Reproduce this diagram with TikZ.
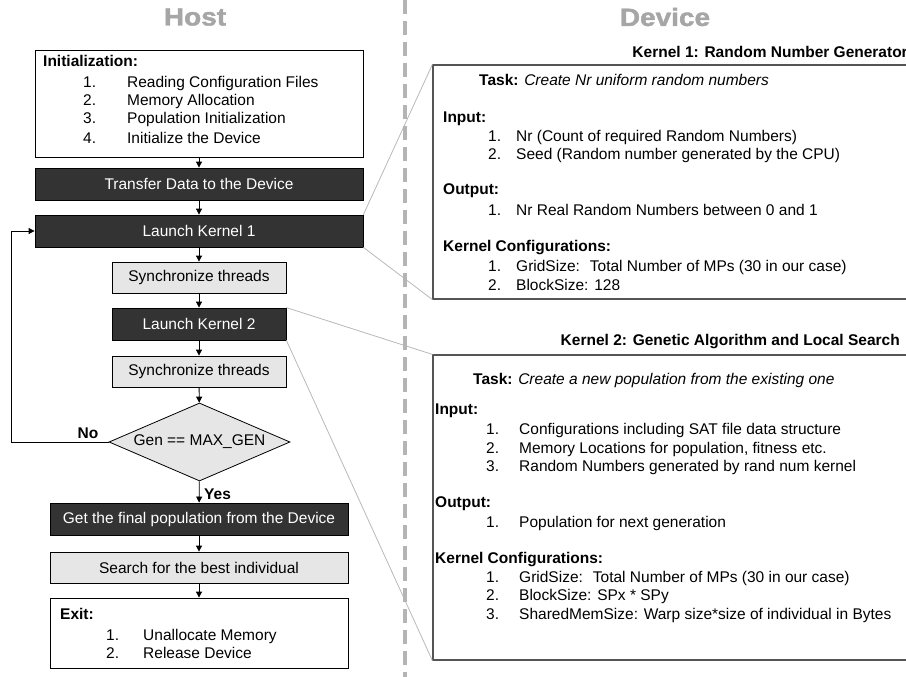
\documentclass[tikz,border=0pt]{standalone}
\usepackage{fontspec}
\setmainfont{Liberation Sans}
\newfontfamily\headfont[FakeBold=1.6]{Liberation Sans}
\usetikzlibrary{arrows.meta,shapes.geometric}
\definecolor{darkfill}{HTML}{333333}
\definecolor{lightfill}{HTML}{E6E6E6}
\definecolor{headgray}{HTML}{A6A6A6}
\definecolor{sepgray}{HTML}{B4B4B4}
\definecolor{linkgray}{HTML}{B8B8B8}
\definecolor{kborder}{HTML}{555555}
\newcommand\bodysize{\fontsize{15.5}{18}\selectfont}
\tikzset{
 base/.style={font=\bodysize, inner sep=0pt},
 txt/.style={base, anchor=west, text height=11pt, text depth=3pt},
 btxt/.style={txt, font=\bodysize\bfseries},
 darkbox/.style={base, draw=black, fill=darkfill, text=white, line width=0.8pt},
 lightbox/.style={base, draw=black, fill=lightfill, line width=0.8pt},
 whitebox/.style={base, draw=black, fill=white, line width=0.8pt},
 decision/.style={base, shape=diamond, aspect=2.3, draw=black, fill=lightfill, line width=0.8pt},
 kbox/.style={draw=kborder, line width=1.2pt, fill=white, inner sep=0pt},
 arr/.style={draw=black, line width=0.8pt, -{Triangle[length=6pt,width=6pt]}},
 link/.style={draw=linkgray, line width=0.8pt},
 sepline/.style={draw=sepgray, line width=4pt, dash pattern=on 14pt off 7pt},
 head/.style={font=\fontsize{25}{30}\selectfont\headfont\bfseries, text=headgray, inner sep=0pt},
 khead/.style={font=\bodysize\bfseries, anchor=east, inner sep=0pt},
}
\begin{document}
\begin{tikzpicture}[x=1pt,y=-1pt]
\useasboundingbox (0,0) rectangle (906,677);
% headers
\node[head] (host) at (195,17) {\scalebox{1.12}[1]{Host}};
\node[head] (device) at (665,17) {\scalebox{1.12}[1]{Device}};
% host boxes
\node[whitebox, minimum width=328, minimum height=107] (init) at (199,103.5) {};
\node[btxt] (initT) at (43,63) {Initialization:};
\node[txt] (init1) at (83,84) {\makebox[44pt][l]{1.}Reading Configuration Files};
\node[txt] (init2) at (83,102) {\makebox[44pt][l]{2.}Memory Allocation};
\node[txt] (init3) at (83,120) {\makebox[44pt][l]{3.}Population Initialization};
\node[txt] (init4) at (83,139) {\makebox[44pt][l]{4.}Initialize the Device};
\node[darkbox, minimum width=328, minimum height=32] (transfer) at (199,184) {Transfer Data to the Device};
\node[darkbox, minimum width=328, minimum height=32] (lk1) at (199,231) {Launch Kernel 1};
\node[lightbox, minimum width=174, minimum height=31] (sync1) at (199,277.5) {Synchronize threads};
\node[darkbox, minimum width=174, minimum height=32] (lk2) at (199,324) {Launch Kernel 2};
\node[lightbox, minimum width=174, minimum height=31] (sync2) at (199,371.5) {Synchronize threads};
\node[decision, minimum width=181, minimum height=78] (dec) at (199.5,442) {Gen == MAX\_GEN};
\node[darkbox, minimum width=298, minimum height=32] (final) at (199,519) {Get the final population from the Device};
\node[lightbox, minimum width=298, minimum height=31] (search) at (199,567.5) {Search for the best individual};
\node[whitebox, minimum width=298, minimum height=70] (exit) at (199,633) {};
\node[btxt] (exitT) at (60,615) {Exit:};
\node[txt] (exit1) at (106,636) {\makebox[37pt][l]{1.}Unallocate Memory};
\node[txt] (exit2) at (106,654) {\makebox[37pt][l]{2.}Release Device};
% host arrows
\draw[arr] (init) -- (transfer);
\draw[arr] (transfer) -- (lk1);
\draw[arr] (lk1) -- (sync1);
\draw[arr] (sync1) -- (lk2);
\draw[arr] (lk2) -- (sync2);
\draw[arr] (sync2) -- (dec);
\draw[arr] (dec) -- (final);
\draw[arr] (final) -- (search);
\draw[arr] (search) -- (exit);
\coordinate (loopc) at (11,442);
\draw[arr] (dec.west) -- (loopc) |- (lk1.west);
\node[btxt, anchor=center] (nolbl) at (88,434) {No};
\node[btxt] (yeslbl) at (204,495) {Yes};
% kernel boxes
\node[kbox, minimum width=487, minimum height=234] (k1) at (676.5,182) {};
\node[kbox, minimum width=487, minimum height=305] (k2) at (676.5,507.5) {};
\node[khead] (k1h) at (908,52) {Kernel 1: Random Number Generator};
\node[khead] (k2h) at (900,342) {Kernel 2: Genetic Algorithm and Local Search};
% kernel 1 content
\node[txt] (k1task) at (479,81) {\textbf{Task:} \textit{Create Nr uniform random numbers}};
\node[btxt] (k1in) at (443,119) {Input:};
\node[txt] (k1in1) at (488,137) {\makebox[28pt][l]{1.}Nr (Count of required Random Numbers)};
\node[txt] (k1in2) at (488,156) {\makebox[28pt][l]{2.}Seed (Random number generated by the CPU)};
\node[btxt] (k1out) at (443,190) {Output:};
\node[txt] (k1out1) at (488,211) {\makebox[28pt][l]{1.}Nr Real Random Numbers between 0 and 1};
\node[btxt] (k1cfg) at (443,247) {Kernel Configurations:};
\node[txt] (k1cfg1) at (488,267) {\makebox[28pt][l]{1.}GridSize:\hspace{10pt}Total Number of MPs (30 in our case)};
\node[txt] (k1cfg2) at (488,286) {\makebox[28pt][l]{2.}BlockSize: 128};
% kernel 2 content
\node[txt] (k2task) at (473,380) {\textbf{Task:} \textit{Create a new population from the existing one}};
\node[btxt] (k2in) at (435,410) {Input:};
\node[txt] (k2in1) at (486,430) {\makebox[33pt][l]{1.}Configurations including SAT file data structure};
\node[txt] (k2in2) at (486,449) {\makebox[33pt][l]{2.}Memory Locations for population, fitness etc.};
\node[txt] (k2in3) at (486,467) {\makebox[33pt][l]{3.}Random Numbers generated by rand num kernel};
\node[btxt] (k2out) at (435,503) {Output:};
\node[txt] (k2out1) at (486,523) {\makebox[33pt][l]{1.}Population for next generation};
\node[btxt] (k2cfg) at (435,559) {Kernel Configurations:};
\node[txt] (k2cfg1) at (486,578) {\makebox[33pt][l]{1.}GridSize:\hspace{10pt}Total Number of MPs (30 in our case)};
\node[txt] (k2cfg2) at (486,596) {\makebox[33pt][l]{2.}BlockSize: SPx * SPy};
\node[txt] (k2cfg3) at (486,615) {\makebox[33pt][l]{3.}SharedMemSize: Warp size*size of individual in Bytes};
% links
\draw[link] (lk1.north east) -- (k1.north west);
\draw[link] (lk1.south east) -- (k1.south west);
\draw[link] (lk2.north east) -- (k2.north west);
\draw[link] (lk2.south east) -- (k2.south west);
% separator
\coordinate (septop) at (405,0);
\coordinate (sepbot) at (405,677);
\draw[sepline] (septop) -- (sepbot);
\end{tikzpicture}
\end{document}
